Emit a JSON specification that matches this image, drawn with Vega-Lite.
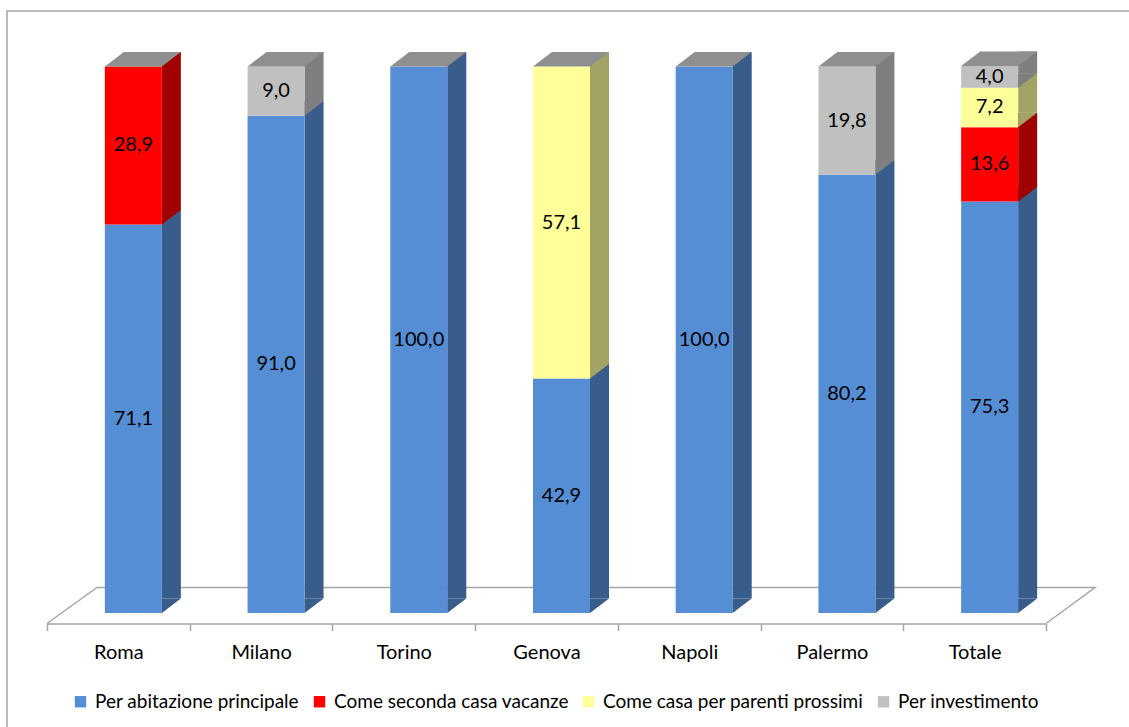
{
  "$schema": "https://vega.github.io/schema/vega-lite/v6.json",
  "width": 1122,
  "height": 716,
  "autosize": {"type": "none"},
  "padding": {"left": 7, "top": 11, "right": 0, "bottom": 0},
  "background": "white",
  "config": {
    "view": {"stroke": "#a6a6a6", "strokeWidth": 1.5, "strokeDash": [1122, 1838, 716, 10]},
    "font": "Lato",
    "axis": {"grid": false}
  },
  "data": {
    "values": [
      {"city": "Roma", "s": "Per abitazione principale", "v": 71.1},
      {"city": "Roma", "s": "Come seconda casa vacanze", "v": 28.9},
      {"city": "Milano", "s": "Per abitazione principale", "v": 91.0},
      {"city": "Milano", "s": "Per investimento", "v": 9.0},
      {"city": "Torino", "s": "Per abitazione principale", "v": 100.0},
      {"city": "Genova", "s": "Per abitazione principale", "v": 42.9},
      {"city": "Genova", "s": "Come casa per parenti prossimi", "v": 57.1},
      {"city": "Napoli", "s": "Per abitazione principale", "v": 100.0},
      {"city": "Palermo", "s": "Per abitazione principale", "v": 80.2},
      {"city": "Palermo", "s": "Per investimento", "v": 19.8},
      {"city": "Totale", "s": "Per abitazione principale", "v": 75.3},
      {"city": "Totale", "s": "Come seconda casa vacanze", "v": 13.6},
      {"city": "Totale", "s": "Come casa per parenti prossimi", "v": 7.2},
      {"city": "Totale", "s": "Per investimento", "v": 4.0}
    ]
  },
  "transform": [
    {"calculate": "indexof(['Per abitazione principale','Come seconda casa vacanze','Come casa per parenti prossimi','Per investimento'], datum.s)", "as": "ord"},
    {"stack": "v", "groupby": ["city"], "sort": [{"field": "ord", "order": "ascending"}], "as": ["y0", "y1"]},
    {"calculate": "(datum.y0 + datum.y1) / 2", "as": "mid"},
    {"calculate": "replace(format(datum.v, '.1f'), '.', ',')", "as": "lab"},
    {"calculate": "datum.s", "as": "side"}
  ],
  "resolve": {"scale": {"color": "independent"}, "legend": {"color": "independent"}},
  "layer": [
    {
      "data": {"values": [{"c": "Roma", "z": 0}]},
      "transform": [],
      "mark": {"type": "point", "shape": "M-71.36,10.5L-21.36,-25.5L976.64,-25.5L927.64,10.5", "size": 4, "filled": false, "stroke": "#a6a6a6", "strokeWidth": 1.5, "opacity": 1},
      "encoding": {
        "x": {"field": "c", "type": "nominal",
          "scale": {"domain": ["Roma", "Milano", "Torino", "Genova", "Napoli", "Palermo", "Totale"], "range": [40, 1039], "paddingInner": 0, "paddingOuter": 0},
          "axis": {"orient": "bottom", "offset": -103.5, "title": null, "domainColor": "#a6a6a6", "domainWidth": 1.5,
                   "tickColor": "#a6a6a6", "tickWidth": 1.5, "tickSize": 7, "tickBand": "extent",
                   "labelFont": "Lato", "labelFontSize": 20, "labelColor": "#000000", "labelPadding": 12, "labelAngle": 0}},
        "y": {"field": "z", "type": "quantitative",
          "scale": {"domain": [0, 100], "range": [602, 55.5], "nice": false, "zero": false},
          "axis": null}
      }
    },
    {
      "mark": {"type": "bar", "width": 19, "xOffset": 53, "yOffset": -14.5, "y2Offset": -14.5},
      "encoding": {
        "x": {"field": "city", "type": "nominal"},
        "y": {"field": "y1", "type": "quantitative"},
        "y2": {"field": "y0"},
        "color": {"field": "side", "type": "nominal", "legend": null,
          "scale": {"domain": ["Per abitazione principale", "Come seconda casa vacanze", "Come casa per parenti prossimi", "Per investimento"],
                    "range": ["#385d8a", "#a00000", "#a3a366", "#7f7f7f"]}}
      }
    },
    {
      "mark": {"type": "bar", "width": 57, "xOffset": 15},
      "encoding": {
        "x": {"field": "city", "type": "nominal"},
        "y": {"field": "y1", "type": "quantitative"},
        "y2": {"field": "y0"},
        "color": {"field": "s", "type": "nominal",
          "scale": {"domain": ["Per abitazione principale", "Come seconda casa vacanze", "Come casa per parenti prossimi", "Per investimento"],
                    "range": ["#558ed5", "#ff0000", "#ffff99", "#c0c0c0"]},
          "legend": {"orient": "none", "legendX": 64, "legendY": 681, "direction": "horizontal", "columns": 4,
                     "title": null, "symbolType": "square", "symbolSize": 130, "symbolStrokeWidth": 0,
                     "labelFont": "Lato", "labelFontSize": 19, "labelColor": "#000000", "labelOffset": 5,
                     "columnPadding": 10, "padding": 0, "labelLimit": 500}}
      }
    },
    {
      "mark": {"type": "point", "shape": "M43.5,0L43.5,-14.5L62.5,-14.5Z", "size": 4, "filled": true, "strokeWidth": 0, "opacity": 1},
      "encoding": {
        "x": {"field": "city", "type": "nominal"},
        "y": {"field": "y0", "type": "quantitative"},
        "color": {"field": "side", "type": "nominal", "legend": null,
          "scale": {"domain": ["Per abitazione principale", "Come seconda casa vacanze", "Come casa per parenti prossimi", "Per investimento"],
                    "range": ["#385d8a", "#a00000", "#a3a366", "#7f7f7f"]}}
      }
    },
    {
      "transform": [{"aggregate": [{"op": "sum", "field": "v", "as": "tot"}], "groupby": ["city"]}],
      "mark": {"type": "point", "shape": "M-13.5,0L43.5,0L62.5,-14.5L5.5,-14.5Z", "size": 4, "filled": true, "strokeWidth": 0, "opacity": 1, "color": "#8f8f8f"},
      "encoding": {
        "x": {"field": "city", "type": "nominal"},
        "y": {"field": "tot", "type": "quantitative"}
      }
    },
    {
      "mark": {"type": "text", "xOffset": 15, "font": "Lato", "fontSize": 20, "color": "#000000", "baseline": "middle", "align": "center"},
      "encoding": {
        "x": {"field": "city", "type": "nominal"},
        "y": {"field": "mid", "type": "quantitative"},
        "text": {"field": "lab", "type": "nominal"}
      }
    }
  ]
}
